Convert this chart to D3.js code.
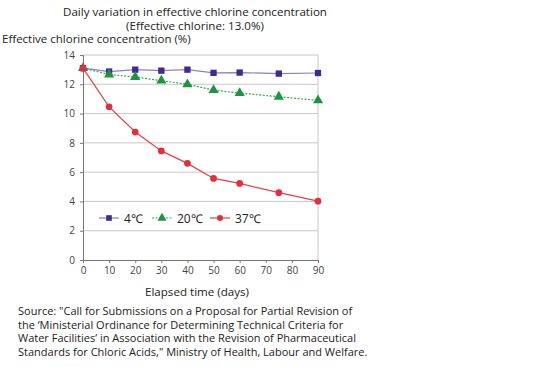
<!DOCTYPE html>
<html lang="en">
<head>
<meta charset="utf-8">
<script src="https://d3js.org/d3.v7.min.js"></script>
<style>
  body { margin: 0; background: #fff; }
  svg text { font-family: "Open Sans", sans-serif; fill: #222; }
  .tick text { font-size: 10px; fill: #444; }
</style>
</head>
<body>
<svg id="chart" width="550" height="367"></svg>
<script>
  // data
  const days = [0, 10, 20, 30, 40, 50, 60, 75, 90];
  const temp4 = [13.1, 12.87, 13.0, 12.93, 13.0, 12.78, 12.8, 12.73, 12.77];
  const temp20 = [13.1, 12.67, 12.5, 12.25, 12.0, 11.6, 11.4, 11.15, 10.9];
  const temp37 = [13.1, 10.46, 8.74, 7.45, 6.6, 5.57, 5.23, 4.6, 4.02];
  const seriesNames = ["4\u2103", "20\u2103", "37\u2103"];
  const xTicks = [0, 10, 20, 30, 40, 50, 60, 70, 80, 90];
  const yTicks = [0, 2, 4, 6, 8, 10, 12, 14];

  const svg = d3.select("#chart");
  const x = d3.scaleLinear().domain([0, 90]).range([83, 318]);
  const y = d3.scaleLinear().domain([0, 14]).range([260, 55]);

  // gridlines
  svg.append("g").selectAll("line")
    .data(yTicks.filter(d => d > 0))
    .join("line")
    .attr("x1", x(0)).attr("x2", x(90))
    .attr("y1", d => y(d)).attr("y2", d => y(d))
    .attr("stroke", "#c8c8c8").attr("stroke-width", 1);
  svg.append("line")
    .attr("x1", x(90)).attr("x2", x(90))
    .attr("y1", y(0)).attr("y2", y(14))
    .attr("stroke", "#c8c8c8");

  // axes
  const xAxis = svg.append("g")
    .attr("transform", `translate(0,${y(0)})`)
    .call(d3.axisBottom(x).tickValues(xTicks).tickSize(3).tickPadding(4));
  const yAxis = svg.append("g")
    .attr("transform", `translate(${x(0)},0)`)
    .call(d3.axisLeft(y).tickValues(yTicks).tickSize(3).tickPadding(5));
  [xAxis, yAxis].forEach(a => {
    a.select(".domain").attr("stroke", "#777");
    a.selectAll(".tick line").attr("stroke", "#777");
  });

  const series = [
    { name: seriesNames[0], values: temp4, line: "#8c7fc4", mark: "#3f2a8e", dash: null, shape: d3.symbolSquare, size: 40 },
    { name: seriesNames[1], values: temp20, line: "#34a853", mark: "#1e9440", dash: "2,1.5", shape: d3.symbolTriangle, size: 45 },
    { name: seriesNames[2], values: temp37, line: "#e2404a", mark: "#e0303c", dash: null, shape: d3.symbolCircle, size: 36 }
  ];

  const line = d3.line().x(d => x(d[0])).y(d => y(d[1]));

  series.forEach(s => {
    const pts = days.map((d, i) => [d, s.values[i]]);
    svg.append("path")
      .datum(pts)
      .attr("d", line)
      .attr("fill", "none")
      .attr("stroke", s.line)
      .attr("stroke-width", 1.2)
      .attr("stroke-dasharray", s.dash);
    svg.append("g").selectAll("path")
      .data(pts)
      .join("path")
      .attr("transform", d => `translate(${x(d[0])},${y(d[1])})`)
      .attr("d", d3.symbol(s.shape, s.size))
      .attr("fill", s.mark);
  });

  // legend
  const legendX = [99, 152, 210];
  series.forEach((s, i) => {
    const g = svg.append("g").attr("transform", `translate(${legendX[i]},218)`);
    g.append("line").attr("x1", 0).attr("x2", 20)
      .attr("stroke", s.line).attr("stroke-width", 1.2)
      .attr("stroke-dasharray", s.dash);
    g.append("path").attr("transform", "translate(10,0)")
      .attr("d", d3.symbol(s.shape, s.size * 0.8)).attr("fill", s.mark);
    g.append("text").attr("x", 25).attr("y", 4.5)
      .attr("font-size", 12).text(s.name);
  });

  // titles
  svg.append("text").attr("x", 195).attr("y", 16).attr("text-anchor", "middle")
    .attr("font-size", 11.6).text("Daily variation in effective chlorine concentration");
  svg.append("text").attr("x", 195).attr("y", 29.5).attr("text-anchor", "middle")
    .attr("font-size", 11.6).text("(Effective chlorine: 13.0%)");
  svg.append("text").attr("x", 2).attr("y", 43)
    .attr("font-size", 11.5).text("Effective chlorine concentration (%)");
  svg.append("text").attr("x", 197).attr("y", 296).attr("text-anchor", "middle")
    .attr("font-size", 11.6).text("Elapsed time (days)");

  const source = [
    "Source: \"Call for Submissions on a Proposal for Partial Revision of",
    "the \u2018Ministerial Ordinance for Determining Technical Criteria for",
    "Water Facilities\u2019 in Association with the Revision of Pharmaceutical",
    "Standards for Chloric Acids,\" Ministry of Health, Labour and Welfare."
  ];
  svg.append("g").selectAll("text")
    .data(source)
    .join("text")
    .attr("x", 18)
    .attr("y", (d, i) => 315 + i * 13.7)
    .attr("font-size", 11)
    .text(d => d);
</script>
</body>
</html>
